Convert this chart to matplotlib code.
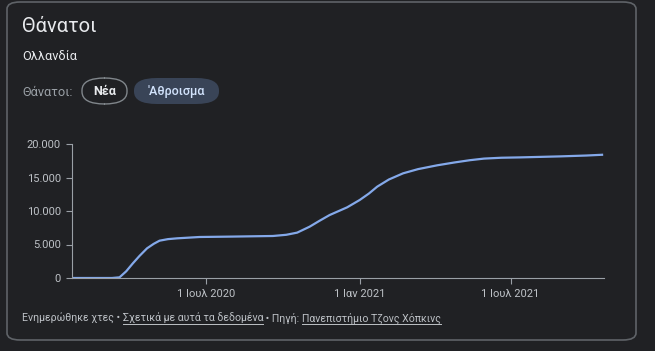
import pandas as pd
import matplotlib
matplotlib.use("Agg")
import matplotlib.pyplot as plt
from matplotlib.patches import FancyBboxPatch
from matplotlib.ticker import FuncFormatter

# cumulative deaths, Netherlands
dates = ["2020-01-22", "2020-03-10", "2020-03-19", "2020-03-27", "2020-04-04",
         "2020-04-12", "2020-04-21", "2020-04-29", "2020-05-06", "2020-05-16",
         "2020-05-27", "2020-06-23", "2020-08-01", "2020-09-19", "2020-10-05",
         "2020-10-18", "2020-11-02", "2020-11-14", "2020-11-26", "2020-12-17",
         "2021-01-01", "2021-01-12", "2021-01-22", "2021-02-05", "2021-02-22",
         "2021-03-12", "2021-04-04", "2021-04-25", "2021-05-13", "2021-05-30",
         "2021-06-20", "2021-07-12", "2021-08-29", "2021-09-30", "2021-10-20"]
deaths = [0, 0, 100, 1000, 2190,
          3300, 4430, 5100, 5570, 5800,
          5920, 6120, 6180, 6270, 6450,
          6770, 7660, 8550, 9400, 10550,
          11640, 12600, 13630, 14700, 15620,
          16250, 16820, 17250, 17580, 17820,
          17950, 18000, 18150, 18280, 18400]
y_ticks = [0, 5000, 10000, 15000, 20000]
x_ticks = ["2020-07-01", "2021-01-01", "2021-07-01"]
x_labels = ["1 Ιουλ 2020", "1 Ιαν 2021", "1 Ιουλ 2021"]

BG = "#202124"
W, H = 655, 351
plt.rcParams['font.family'] = ['Roboto', 'DejaVu Sans']

fig = plt.figure(figsize=(W / 100, H / 100), dpi=100, facecolor=BG)


def fx(x):
    return x / W


def fy(y):
    return 1 - y / H


# card
fig.patches.append(FancyBboxPatch((fx(7), fy(340)), fx(629), 338 / H,
                                  boxstyle="round,pad=0,rounding_size=0.02",
                                  transform=fig.transFigure, facecolor=BG,
                                  edgecolor="#5f6368", linewidth=1.2, zorder=-5))

fig.text(fx(22), fy(27), "Θάνατοι", fontsize=14.5, color="#e8eaed", va="center")
fig.text(fx(22), fy(56), "Ολλανδία", fontsize=9.2, color="#e8eaed", va="center")
fig.text(fx(22), fy(92), "Θάνατοι:", fontsize=9.2, color="#9aa0a6", va="center")

# buttons
fig.patches.append(FancyBboxPatch((fx(82), fy(104)), fx(45), 26 / H,
                                  boxstyle="round,pad=0,rounding_size=0.035",
                                  transform=fig.transFigure, facecolor=BG,
                                  edgecolor="#80868b", linewidth=1, zorder=-4))
fig.text(fx(104.5), fy(91.5), "Νέα", fontsize=9, color="#e8eaed",
         fontweight="bold", ha="center", va="center")
fig.patches.append(FancyBboxPatch((fx(134), fy(104)), fx(85), 26 / H,
                                  boxstyle="round,pad=0,rounding_size=0.035",
                                  transform=fig.transFigure, facecolor="#394457",
                                  edgecolor="none", zorder=-4))
fig.text(fx(176.5), fy(91.5), "'Αθροισμα", fontsize=9, color="#d2e3fc",
         fontweight="medium", ha="center", va="center")

# chart
ax = fig.add_axes([fx(72), fy(278), fx(604 - 72), (278 - 144) / H])
ax.set_facecolor("none")
x = pd.to_datetime(dates)
ax.plot(x, deaths, color="#84a9ea", linewidth=1.6, solid_capstyle="butt")
ax.set_xlim(pd.Timestamp("2020-01-22"), pd.Timestamp("2021-10-21"))
ax.set_ylim(0, 20000)
ax.set_yticks(y_ticks)
ax.yaxis.set_major_formatter(FuncFormatter(lambda v, p: f"{int(v):,}".replace(",", ".")))
ax.set_xticks(pd.to_datetime(x_ticks))
ax.set_xticklabels(x_labels)
for s in ["top", "right"]:
    ax.spines[s].set_visible(False)
for s in ["left", "bottom"]:
    ax.spines[s].set_color("#9aa0a6")
    ax.spines[s].set_linewidth(0.8)
ax.tick_params(colors="#9aa0a6", labelcolor="#bdc1c6", labelsize=8,
               length=4, width=0.8, pad=4)

# footer with underlined links
pieces = [("Ενημερώθηκε χτες • ", False), ("Σχετικά με αυτά τα δεδομένα", True),
          (" • Πηγή: ", False), ("Πανεπιστήμιο Τζονς Χόπκινς", True)]
fig.canvas.draw()
renderer = fig.canvas.get_renderer()
xpos = 22
for txt, link in pieces:
    t = fig.text(fx(xpos), fy(318), txt, fontsize=7.6, color="#bdc1c6", va="center")
    bb = t.get_window_extent(renderer)
    if link:
        fig.add_artist(plt.Line2D([fx(xpos), fx(xpos + bb.width)], [fy(324), fy(324)],
                                  transform=fig.transFigure, color="#bdc1c6", linewidth=0.7))
    xpos += bb.width

fig.savefig("out.png", dpi=100, facecolor=BG)
